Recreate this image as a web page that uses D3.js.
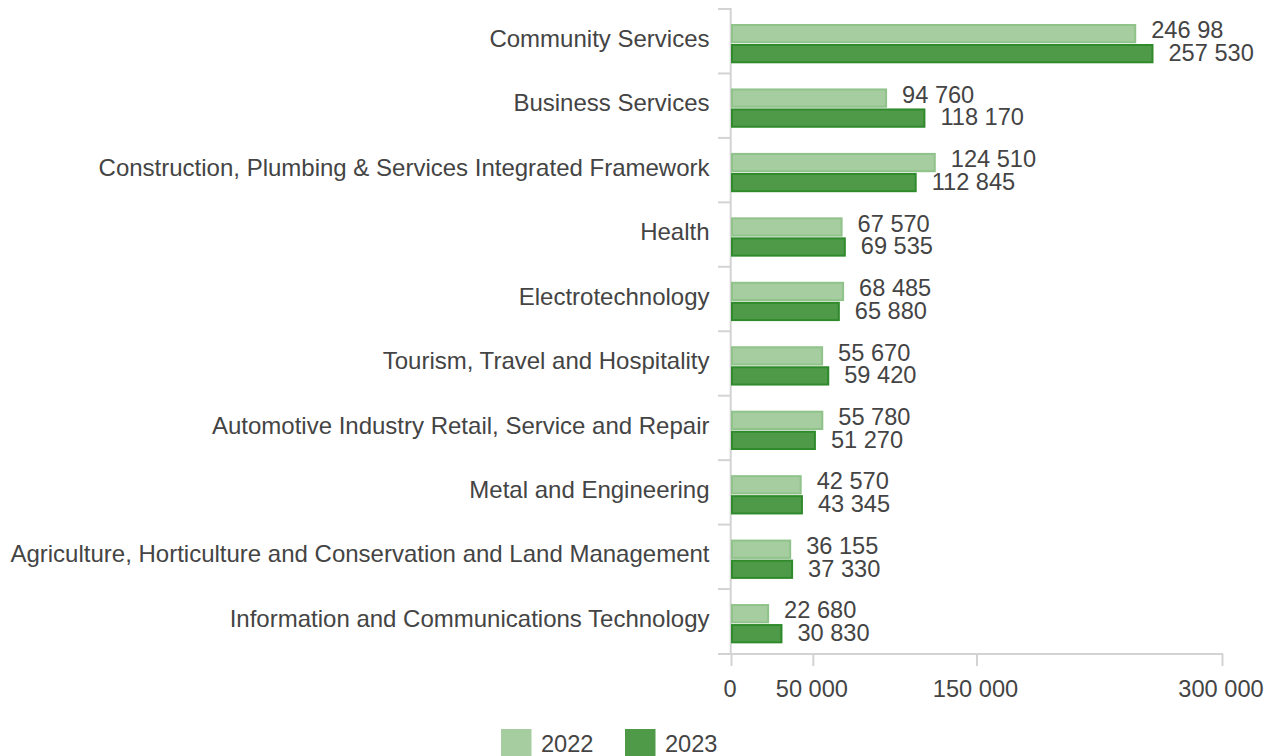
<!DOCTYPE html>
<html>
<head>
<meta charset="utf-8">
<script src="https://cdn.jsdelivr.net/npm/d3@7"></script>
<style>
  html, body { margin: 0; padding: 0; background: #ffffff; }
  svg { display: block; }
  text { font-family: "Liberation Sans", Arial, sans-serif; fill: #444444; }
</style>
</head>
<body>
<svg id="chart" width="1271" height="756"></svg>
<script>
const categories = [
  "Community Services",
  "Business Services",
  "Construction, Plumbing & Services Integrated Framework",
  "Health",
  "Electrotechnology",
  "Tourism, Travel and Hospitality",
  "Automotive Industry Retail, Service and Repair",
  "Metal and Engineering",
  "Agriculture, Horticulture and Conservation and Land Management",
  "Information and Communications Technology"
];
const seriesNames = ["2022", "2023"];
const values2022 = [246980, 94760, 124510, 67570, 68485, 55670, 55780, 42570, 36155, 22680];
const values2023 = [257530, 118170, 112845, 69535, 65880, 59420, 51270, 43345, 37330, 30830];
const labels2022 = ["246 98", "94 760", "124 510", "67 570", "68 485", "55 670", "55 780", "42 570", "36 155", "22 680"];
const labels2023 = ["257 530", "118 170", "112 845", "69 535", "65 880", "59 420", "51 270", "43 345", "37 330", "30 830"];
const tickValues = [0, 50000, 150000, 300000];
const tickLabels = ["0", "50 000", "150 000", "300 000"];

const colors = {
  "2022": { fill: "#a5cda0", stroke: "#90c38a" },
  "2023": { fill: "#4f9a49", stroke: "#2f8a2b" }
};

const svg = d3.select("#chart");
const CAT_FONT = 24;
const FONT = 23.6;

const x = d3.scaleLinear().domain([0, 300000]).range([731, 1222]);
const y = d3.scaleBand().domain(categories).range([9, 653.5]).padding(0);
const sub = d3.scaleBand().domain(seriesNames).range([15, 55]).padding(0);
const labelSub = d3.scaleBand().domain(seriesNames).range([10, 55.4]).padding(0);

const rows = categories.map((c, i) => ({
  cat: c,
  items: [
    { s: "2022", v: values2022[i], label: labels2022[i] },
    { s: "2023", v: values2023[i], label: labels2023[i] }
  ]
}));

const axisColor = "#d3d3d3";

// x axis
const xAxis = d3.axisBottom(x)
  .tickValues(tickValues)
  .tickFormat((d, i) => tickLabels[i])
  .tickSize(12)
  .tickPadding(14);
const gx = svg.append("g").attr("transform", "translate(0,654)").call(xAxis);
gx.select(".domain").remove();
gx.selectAll(".tick line").attr("stroke", axisColor).attr("stroke-width", 2);
gx.selectAll(".tick text")
  .attr("font-size", FONT)
  .attr("font-family", "Liberation Sans, Arial, sans-serif")
  .attr("fill", "#444")
  .attr("dx", -1.5)
  .attr("dy", "0.71em");
// baseline for x axis
svg.append("line")
  .attr("x1", 718).attr("x2", x(300000) + 1)
  .attr("y1", 654).attr("y2", 654)
  .attr("stroke", axisColor).attr("stroke-width", 2);

// y axis line
svg.append("line")
  .attr("x1", 730.7).attr("x2", 730.7)
  .attr("y1", y.range()[0] - 1).attr("y2", 654)
  .attr("stroke", axisColor).attr("stroke-width", 2);

// y boundary ticks
const boundaries = categories.map(c => y(c));
svg.append("g").selectAll("line").data(boundaries).join("line")
  .attr("x1", 718).attr("x2", 731)
  .attr("y1", d => d).attr("y2", d => d)
  .attr("stroke", axisColor).attr("stroke-width", 2);

// category labels
svg.append("g").selectAll("text").data(categories).join("text")
  .attr("x", 709.5)
  .attr("y", d => y(d) + 37.8)
  .attr("text-anchor", "end")
  .attr("font-size", CAT_FONT)
  .text(d => d);

// bars
const groups = svg.append("g").selectAll("g").data(rows).join("g")
  .attr("transform", d => `translate(0,${y(d.cat)})`);

groups.selectAll("rect").data(d => d.items).join("rect")
  .attr("x", x(0) + 1)
  .attr("y", d => sub(d.s) + 1)
  .attr("width", d => Math.max(0, x(d.v) - x(0) - 1))
  .attr("height", sub.bandwidth() - 2.7)
  .attr("fill", d => colors[d.s].fill)
  .attr("stroke", d => colors[d.s].stroke)
  .attr("stroke-width", 2);

groups.selectAll("text").data(d => d.items).join("text")
  .attr("x", d => x(d.v) + 16)
  .attr("y", d => labelSub(d.s) + labelSub.bandwidth() / 2 + 8)
  .attr("font-size", FONT)
  .text(d => d.label);

// legend
const legend = svg.append("g");
const legendX = { "2022": 501, "2023": 625 };
seriesNames.forEach(s => {
  legend.append("rect")
    .attr("x", legendX[s]).attr("y", 729)
    .attr("width", 30.5).attr("height", 30.5)
    .attr("fill", colors[s].fill);
  legend.append("text")
    .attr("x", legendX[s] + 40)
    .attr("y", 751.5)
    .attr("font-size", FONT)
    .text(s);
});
</script>
</body>
</html>
